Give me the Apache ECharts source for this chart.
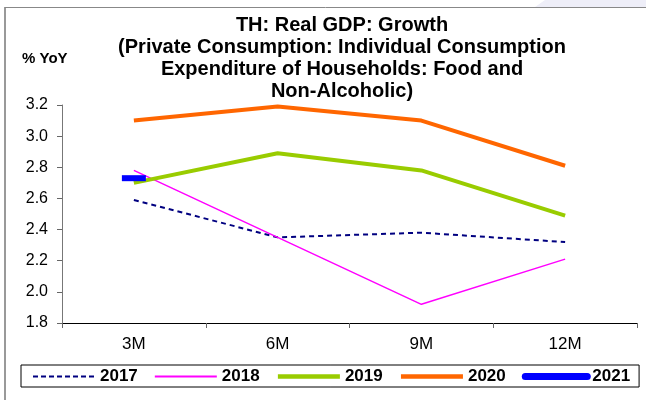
<!DOCTYPE html>
<html><head><meta charset="utf-8">
<script src="https://cdn.jsdelivr.net/npm/echarts@6/dist/echarts.min.js"></script>
<style>html,body{margin:0;padding:0;background:#fff}#c{width:646px;height:400px}</style>
</head><body><div id="c"></div>
<script>
const categories = ['3M', '6M', '9M', '12M'];
const seriesNames = ['2017', '2018', '2019', '2020', '2021'];
const v2017 = [2.59, 2.35, 2.38, 2.32];
const v2018 = [2.78, 2.35, 1.92, 2.21];
const v2019 = [2.70, 2.89, 2.78, 2.49];
const v2020 = [3.10, 3.19, 3.10, 2.81];
const v2021 = [2.73, null, null, null];
const yTicks = ['1.8', '2.0', '2.2', '2.4', '2.6', '2.8', '3.0', '3.2'];

const FONT = 'Liberation Sans, Arial, sans-serif';
const colors = ['#000080', '#FF00FF', '#99CC00', '#FF6600', '#0000FF'];
const widths = [2, 1.5, 4, 4, 6];
const legendWidths = [2, 2, 4.5, 4.5, 7];
const chart = echarts.init(document.getElementById('c'), null, {renderer: 'canvas'});
const mk = (i, data, type, cap) => ({
  name: seriesNames[i], type: 'line', data, symbol: 'none', connectNulls: false,
  lineStyle: {color: colors[i], width: widths[i], type: type || 'solid', cap: cap || 'butt'},
  itemStyle: {color: colors[i]},
  emphasis: {disabled: true}, animation: false
});
const s2021 = mk(4, v2021.map(v => v === null ? null : ({value: v, symbol: 'rect', symbolSize: [24, 6]})), 'solid', 'round');
s2021.showSymbol = true;
chart.setOption({
  animation: false,
  textStyle: {fontFamily: FONT},
  title: [{
    text: 'TH: Real GDP: Growth\n(Private Consumption: Individual Consumption\nExpenditure of Households: Food and\nNon-Alcoholic)',
    left: 337, top: 9, textAlign: 'center',
    textStyle: {fontSize: 20, fontWeight: 'bold', color: '#000', lineHeight: 22, fontFamily: FONT}
  }, {
    text: '% YoY', left: 17, top: 46,
    textStyle: {fontSize: 15, fontWeight: 'bold', color: '#000', fontFamily: FONT}
  }],
  grid: {left: 62, right: 9, top: 105, bottom: 77},
  xAxis: {
    type: 'category', data: categories, boundaryGap: true,
    axisLine: {lineStyle: {color: '#000', width: 1}},
    axisTick: {show: true, length: 5, lineStyle: {color: '#666'}},
    axisLabel: {fontSize: 17, color: '#000', margin: 13, fontFamily: FONT}
  },
  yAxis: {
    type: 'value', min: 1.8, max: 3.2, interval: 0.2,
    axisLine: {show: true, lineStyle: {color: '#777', width: 1}},
    axisTick: {show: true, length: 5, lineStyle: {color: '#666'}},
    splitLine: {show: false},
    axisLabel: {fontSize: 16, color: '#000', margin: 14, fontFamily: FONT,
      formatter: (v) => yTicks.find(t => Math.abs(parseFloat(t) - v) < 1e-6) || ''}
  },
  legend: {
    data: seriesNames.map((n, i) => ({
      name: n,
      lineStyle: {width: legendWidths[i], color: colors[i], type: i === 0 ? [5, 3] : 'solid', cap: i === 4 ? 'round' : 'butt'}
    })),
    left: 21, top: 365,
    borderColor: '#000', borderWidth: 1, padding: [3, 9, 2, 11],
    itemWidth: 62, itemHeight: 8, itemGap: 16,
    itemStyle: {opacity: 0},
    textStyle: {fontSize: 17, fontWeight: 'bold', color: '#000', fontFamily: FONT}
  },
  graphic: [
    {type: 'polygon', shape: {points: [[545, 0], [646, 0], [646, 7], [535, 7]]}, style: {fill: '#eeeef8'}, silent: true},
    {type: 'line', shape: {x1: 5, y1: 7, x2: 5, y2: 400}, style: {stroke: '#999', lineWidth: 2}, silent: true},
    {type: 'line', shape: {x1: 5, y1: 7.5, x2: 646, y2: 7.5}, style: {stroke: '#888', lineWidth: 1}, silent: true}
  ],
  series: [
    mk(0, v2017, [5, 4]),
    mk(1, v2018),
    mk(2, v2019),
    mk(3, v2020),
    s2021
  ]
});
</script></body></html>
